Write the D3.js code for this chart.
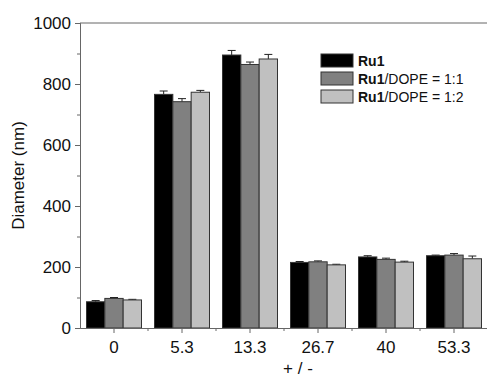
<!DOCTYPE html>
<meta charset="utf-8">
<style>
    body { margin: 0; background: #fff; }
    svg { font-family: "Liberation Sans", Arial, sans-serif; }
    .bar { stroke: #333; stroke-width: 1px; }
    .err { stroke: #222; stroke-width: 1px; fill: none; }
    .axis path, .axis line { stroke: #666; }
    .axis text { font-size: 17px; fill: #111; }
</style>
<body>
<script src="https://cdn.jsdelivr.net/npm/d3@7"></script>
<script>
    var width = 487,
        height = 378;

    var categories = ['0', '5.3', '13.3', '26.7', '40', '53.3'];
    var seriesNames = ['Ru1', 'Ru1/DOPE = 1:1', 'Ru1/DOPE = 1:2'];
    var ru1 = [86, 766, 895, 215, 233, 237];
    var ru1Dope11 = [97, 742, 864, 217, 225, 239];
    var ru1Dope12 = [92, 773, 882, 207, 216, 227];
    var ru1Err = [4, 11, 15, 3, 4, 2];
    var dope11Err = [3, 10, 8, 3, 4, 5];
    var dope12Err = [2, 6, 15, 2, 3, 9];
    var yTicks = [0, 200, 400, 600, 800, 1000];
    var colors = ['#000000', '#808080', '#c0c0c0'];

    var values = [ru1, ru1Dope11, ru1Dope12];
    var errors = [ru1Err, dope11Err, dope12Err];

    var svg = d3.select('body').append('svg')
        .attr('width', width)
        .attr('height', height);

    var x0 = d3.scaleBand().domain(categories).range([80, 488]);
    var x1 = d3.scaleBand().domain(d3.range(3)).range([6.5, 61.5]);
    var y = d3.scaleLinear().domain([0, 1000]).range([328, 23]);

    // top frame line
    svg.append('line')
        .attr('x1', 80).attr('x2', 488)
        .attr('y1', y(1000)).attr('y2', y(1000))
        .attr('stroke', '#666');

    var groups = svg.selectAll('.grp')
        .data(categories)
        .enter().append('g')
        .attr('class', 'grp')
        .attr('transform', function (d) { return 'translate(' + x0(d) + ',0)'; });

    groups.each(function (c, i) {
        var g = d3.select(this);
        for (var s = 0; s < 3; s++) {
            var v = values[s][i], e = errors[s][i];
            var cx = x1(s) + x1.bandwidth() / 2;
            g.append('line').attr('class', 'err')
                .attr('x1', cx).attr('x2', cx)
                .attr('y1', y(v)).attr('y2', y(v + e));
            g.append('line').attr('class', 'err')
                .attr('x1', cx - 4).attr('x2', cx + 4)
                .attr('y1', y(v + e)).attr('y2', y(v + e));
            g.append('rect').attr('class', 'bar')
                .attr('x', x1(s))
                .attr('y', y(v))
                .attr('width', x1.bandwidth())
                .attr('height', y(0) - y(v))
                .attr('fill', colors[s]);
        }
    });

    // y axis with minor ticks
    svg.append('g').attr('class', 'axis')
        .attr('transform', 'translate(80,0)')
        .call(d3.axisLeft(y).tickValues(d3.range(100, 1000, 200)).tickSize(3).tickFormat(''));
    svg.append('g').attr('class', 'axis')
        .attr('transform', 'translate(80,0)')
        .call(d3.axisLeft(y).tickValues(yTicks).tickFormat(d3.format('d'))
            .tickSize(5).tickPadding(4).tickSizeOuter(0));

    // x axis: major ticks at categories, minor at boundaries
    svg.append('g').attr('class', 'axis')
        .attr('transform', 'translate(0,' + y(0) + ')')
        .selectAll('line.minor')
        .data(categories.slice(1))
        .enter().append('line')
        .attr('stroke', '#666')
        .attr('x1', function (d) { return x0(d); })
        .attr('x2', function (d) { return x0(d); })
        .attr('y1', 0).attr('y2', 3);
    svg.append('g').attr('class', 'axis')
        .attr('transform', 'translate(0,' + y(0) + ')')
        .call(d3.axisBottom(x0).tickSize(5).tickPadding(8).tickSizeOuter(0));

    svg.append('text')
        .attr('transform', 'translate(24,' + y(500) + ') rotate(-90)')
        .attr('text-anchor', 'middle')
        .attr('font-size', 17)
        .attr('fill', '#111')
        .text('Diameter (nm)');

    svg.append('text')
        .attr('x', 298).attr('y', 374)
        .attr('text-anchor', 'middle')
        .attr('font-size', 17)
        .attr('fill', '#111')
        .text('+ / -');

    // legend
    var legend = svg.append('g').attr('transform', 'translate(321,54)');
    seriesNames.forEach(function (name, i) {
        var row = legend.append('g').attr('transform', 'translate(0,' + (i * 18) + ')');
        row.append('rect').attr('class', 'bar')
            .attr('width', 32).attr('height', 13)
            .attr('fill', colors[i]);
        var t = row.append('text')
            .attr('x', 37).attr('y', 12)
            .attr('font-size', 14)
            .attr('fill', '#111');
        t.append('tspan').attr('font-weight', 'bold').text('Ru1');
        t.append('tspan').text(name.slice(3));
    });
</script>
</body>
